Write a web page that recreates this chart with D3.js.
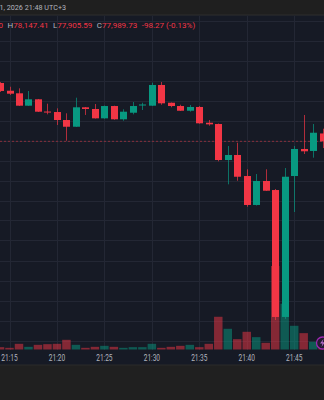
<!DOCTYPE html>
<html><head><meta charset="utf-8">
<script src="https://cdn.jsdelivr.net/npm/d3@7"></script>
<style>html,body{margin:0;padding:0;background:#161a25;overflow:hidden}svg{display:block}</style>
</head><body>
<svg id="c" width="324" height="400"></svg>
<script>
const times = ["21:14","21:15","21:16","21:17","21:18","21:19","21:20","21:21","21:22","21:23","21:24","21:25","21:26","21:27","21:28","21:29","21:30","21:31","21:32","21:33","21:34","21:35","21:36","21:37","21:38","21:39","21:40","21:41","21:42","21:43","21:44","21:45","21:46","21:47","21:48"];
const opens  = [78719,78622,78590,78435,78515,78362,78356,78256,78172,78415,78394,78277,78431,78265,78347,78445,78435,78694,78472,78431,78372,78419,78222,78206,77756,77819,77556,77194,77494,77381,75794,77556,77894,77869,78088.00];
const highs  = [78731,78672,78652,78619,78519,78460,78402,78340,78535,78419,78456,78437,78435,78390,78481,78472,78722,78731,78475,78447,78444,78431,78256,78212,77931,77972,77640,77581,77640,77394,77656,77931,78319,78206,78147.41];
const lows   = [78606,78569,78431,78433,78356,78327,78194,77997,78169,78319,78275,78272,78260,78247,78327,78381,78431,78447,78415,78369,78360,78210,78185,77740,77452,77497,77172,77187,77369,75756,75770,77106,77831,77785,77905.59];
const closes = [78619,78585,78435,78515,78360,78359,78256,78172,78415,78394,78277,78431,78265,78360,78431,78450,78694,78465,78431,78372,78419,78215,78202,77756,77819,77547,77194,77494,77372,75794,77547,77894,77865,78097,77989.73];
const volumes = [7,5,17,8,14,16,17,29,14,5,8,11,8,5,7,7,17,5,8,11,14,7,17,98,62,31,53,37,20,250,137,71,49,23,18];
const tickLabels = ["21:15","21:20","21:25","21:30","21:35","21:40","21:45"];
const priceGrid = [75500,75750,76000,76250,76500,76750,77000,77250,77500,77750,78000,78250,78500,78750,79000,79250,79500];
const headerDate = "1, 2026 21:48 UTC+3";
const ohlcParts = [["", "0"], ["H", "78,147.41"], ["L", "77,905.59"], ["C", "77,989.73"], ["", "-98.27 (-0.13%)"]];

const UP = "#089981", DOWN = "#f23645", TXT = "#b2b5be";
const svg = d3.select("#c");
const W = 324, H = 400, plotTop = 15.5, plotBottom = 350;
const parse = d3.timeParse("%H:%M");
const x = d3.scaleTime().domain([parse("21:15"), parse("21:45")]).range([9.5, 294.2]);
const y = d3.scaleLinear().domain([75500, 79000]).range([340.5, 60.5]);
const yv = d3.scaleLinear().domain([0, 250]).range([349.5, 266]);

const data = times.map((t,i)=>({t:parse(t), o:opens[i], h:highs[i], l:lows[i], c:closes[i], v:volumes[i]}));

// backgrounds
svg.append("rect").attr("x",0).attr("y",0).attr("width",W).attr("height",H).attr("fill","#161a25");
svg.append("rect").attr("x",0).attr("y",0).attr("width",W).attr("height",15).attr("fill","#1f1f1f");
svg.append("line").attr("x1",0).attr("x2",W).attr("y1",15).attr("y2",15).attr("stroke","#2e2e2e");
svg.append("rect").attr("x",0).attr("y",365).attr("width",W).attr("height",35).attr("fill","#202020");
svg.append("line").attr("x1",0).attr("x2",W).attr("y1",365).attr("y2",365).attr("stroke","#2a2a2a");

svg.append("clipPath").attr("id","clip").append("rect").attr("x",0).attr("y",plotTop).attr("width",W).attr("height",plotBottom-plotTop);
const g = svg.append("g").attr("clip-path","url(#clip)");

// grid
g.selectAll("line.hg").data(priceGrid).join("line")
  .attr("x1",0).attr("x2",W).attr("y1",d=>Math.round(y(d))+0.5).attr("y2",d=>Math.round(y(d))+0.5)
  .attr("stroke","#232734").attr("stroke-width",1);
g.selectAll("line.vg").data(tickLabels).join("line")
  .attr("y1",plotTop).attr("y2",plotBottom).attr("x1",d=>Math.round(x(parse(d)))+0.5).attr("x2",d=>Math.round(x(parse(d)))+0.5)
  .attr("stroke","#232734").attr("stroke-width",1);

// volume
const bw = 9.48;
g.selectAll("rect.vol").data(data).join("rect")
  .attr("x",d=>x(d.t)-bw/2+0.5).attr("width",bw-1)
  .attr("y",d=>yv(d.v)).attr("height",d=>yv(0)-yv(d.v))
  .attr("fill",d=>d.c>=d.o?UP:DOWN).attr("fill-opacity",0.5);

// price line
g.append("line").attr("x1",0).attr("x2",W)
  .attr("y1",y(closes[closes.length-1])).attr("y2",y(closes[closes.length-1]))
  .attr("stroke",DOWN).attr("stroke-opacity",0.5).attr("stroke-dasharray","2,2");

// candles
g.selectAll("line.wick").data(data).join("line")
  .attr("x1",d=>Math.round(x(d.t))+0.5).attr("x2",d=>Math.round(x(d.t))+0.5)
  .attr("y1",d=>y(d.h)).attr("y2",d=>y(d.l))
  .attr("stroke",d=>d.c>=d.o?UP:DOWN).attr("stroke-opacity",0.7).attr("stroke-width",1);
g.selectAll("rect.body").data(data).join("rect")
  .attr("x",d=>Math.round(x(d.t))-3).attr("width",7)
  .attr("y",d=>y(Math.max(d.o,d.c)))
  .attr("height",d=>Math.max(1,Math.abs(y(d.o)-y(d.c))))
  .attr("fill",d=>d.c>=d.o?UP:DOWN);

// event icon
const ic = g.append("g").attr("transform","translate(322.5,343)");
ic.append("circle").attr("r",6).attr("fill","#231b30").attr("stroke","#9c27b0").attr("stroke-width",1.3);
ic.append("path").attr("d","M1,-4 L-2.5,0.5 L0,0.5 L-1,4 L2.5,-0.8 L0,-0.8 Z").attr("fill","#b46cc8");

// x-axis labels
svg.selectAll("text.xt").data(tickLabels).join("text")
  .attr("transform",d=>`translate(${x(parse(d))},360.5) scale(0.8,1)`).attr("text-anchor","middle")
  .attr("font-family","Roboto, sans-serif").attr("font-size",8.2).attr("fill",TXT).text(d=>d);

// header
svg.append("text").attr("x",-0.5).attr("y",10).attr("font-family","Roboto, sans-serif").attr("font-size",7.2)
  .attr("fill",TXT).text(headerDate);
const t2 = svg.append("text").attr("x",-1.5).attr("y",27.5).attr("font-family","Roboto, sans-serif").attr("font-size",8);
ohlcParts.forEach(([k,v],i)=>{
  if (k) t2.append("tspan").attr("fill",TXT).attr("dx", i ? 4.5 : 0).text(k);
  t2.append("tspan").attr("fill",DOWN).attr("dx", (!k && i) ? 4.5 : 0).text(v);
});
</script>
</body></html>
